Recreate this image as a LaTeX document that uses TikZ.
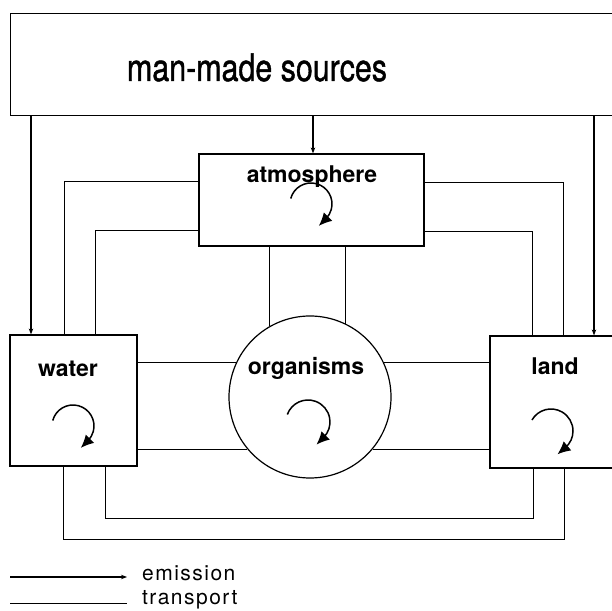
\documentclass[tikz,border=0pt]{standalone}
\usepackage{fontspec}
\setmainfont{TeX Gyre Heros}
\usetikzlibrary{arrows.meta}
\tikzset{
  box/.style={draw, line width=1.2pt, inner sep=0pt},
  trans/.style={draw, line width=1pt},
  emit/.style={draw, line width=1.8pt, -{Stealth[length=6pt,width=4.5pt]}},
  curl/.style={draw, line width=1.5pt},
  curlhead/.style={draw, line width=1.5pt, -{Latex[length=13pt,width=12pt]}},
  lbl/.style={font=\fontsize{23}{25}\selectfont\bfseries, anchor=base, inner sep=0pt},
  legend/.style={font=\fontsize{21}{23}\selectfont\addfontfeatures{LetterSpace=7}, anchor=base west, inner sep=0pt}
}
% clockwise self-loop: centre x, centre y, radius, start angle, end angle, name
\newcommand\selfloop[6]{%
  \draw[curl] ([shift={(#4:#3)}]#1,#2) arc[start angle=#4, end angle=#5, radius=#3] coordinate (#6);
  \draw[curlhead] ([shift={(#5+90:1pt)}]#6) -- ++(#5-90:11pt);
}
\begin{document}
\begin{tikzpicture}[x=1pt,y=1pt]
\clip (0,0) rectangle (612,610);
\fill[white] (0,0) rectangle (612,610);

% compartments
\node[box, minimum width=630pt, minimum height=102pt, anchor=north west] (src) at (10,597) {};
\node[box, minimum width=225pt, minimum height=92pt] (atm) at (311.5,410) {};
\node[box, minimum width=127pt, minimum height=131pt] (wat) at (73.5,209.5) {};
\node[box, minimum width=150pt, minimum height=132pt] (lnd) at (565,208) {};
\node[box, circle, minimum size=162pt] (org) at (310,213) {};

% labels
\node[anchor=base, inner sep=0pt] (srct) at (257,529)
  {\scalebox{0.8}[1]{\fontsize{38}{40}\selectfont\addfontfeatures{FakeBold=1.2}man-made sources}};
\node[lbl] (atmt) at (312,427) {atmosphere};
\node[lbl] (watt) at (68,233) {water};
\node[lbl] (orgt) at (306,235) {organisms};
\node[lbl] (lndt) at (555,235) {land};

% internal cycling
\selfloop{311}{406}{21}{165}{-45}{atmEnd}
\selfloop{73}{184}{21}{165}{-45}{watEnd}
\selfloop{308}{188}{22}{160}{-45}{orgEnd}
\selfloop{551}{179}{22}{150}{-50}{lndEnd}

% emission from man-made sources
\coordinate (eW) at ([xshift=-42.5pt]wat.north);
\coordinate (eA) at ([xshift=1.5pt]atm.north);
\coordinate (eL) at ([xshift=29pt]lnd.north);
\draw[emit] (eW |- src.south) -- (eW);
\draw[emit] (eA |- src.south) -- (eA);
\draw[emit] (eL |- src.south) -- (eL);

% transport atmosphere <-> water / land
\draw[trans] ([yshift=18pt]atm.west) -| ([xshift=-9.5pt]wat.north);
\draw[trans] ([yshift=-31pt]atm.west) -| ([xshift=21.5pt]wat.north);
\draw[trans] ([yshift=17pt]atm.east) -| ([xshift=-2pt]lnd.north);
\draw[trans] ([yshift=-32pt]atm.east) -| ([xshift=-33pt]lnd.north);

% transport atmosphere <-> organisms
\draw[trans] (org.120 |- atm.south) -- (org.120);
\draw[trans] (org.64 |- atm.south) -- (org.64);

% transport organisms <-> water / land
\draw[trans] (org.155 -| wat.east) -- (org.155);
\draw[trans] (org.220 -| wat.east) -- (org.220);
\draw[trans] (org.25) -- (org.25 -| lnd.west);
\draw[trans] (org.-40) -- (org.-40 -| lnd.west);

% transport water <-> land
\draw[trans] ([xshift=-10.5pt]wat.south) -- ++(0,-73) -| ([xshift=-1pt]lnd.south);
\draw[trans] ([xshift=31.5pt]wat.south) -- ++(0,-52) -| ([xshift=-32pt]lnd.south);

% legend
\coordinate (e1) at (10,33);
\coordinate (e2) at (127,33);
\coordinate (t1) at (10,7);
\coordinate (t2) at (127,7);
\draw[emit] (e1) -- (e2);
\draw[trans] (t1) -- (t2);
\node[legend] (lgE) at (142,30) {emission};
\node[legend] (lgT) at (142,6) {transport};
\end{tikzpicture}
\end{document}
